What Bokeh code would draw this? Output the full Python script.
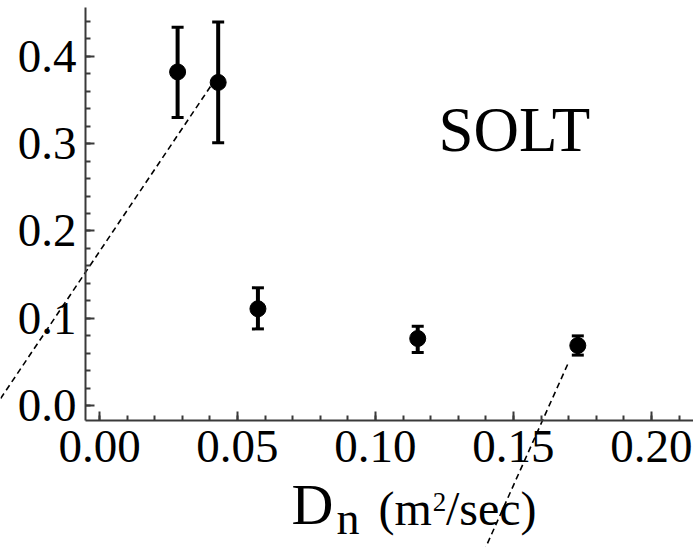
from bokeh.plotting import figure
from bokeh.models import (ColumnDataSource, Whisker, TeeHead, LinearAxis,
                          SingleIntervalTicker, NumeralTickFormatter, Range1d)
from bokeh.core.properties import value as fixed
from bokeh.embed import file_html
from bokeh.resources import INLINE

# Diffusion coefficient D_n (m^2/sec) and measured values with error bounds
d_n = [0.0283, 0.0430, 0.0574, 0.1153, 0.1733]
value = [0.382, 0.370, 0.111, 0.077, 0.069]
upper = [0.433, 0.439, 0.135, 0.091, 0.080]
lower = [0.330, 0.301, 0.088, 0.061, 0.058]

# Dashed guide lines (start x, start y, end x, end y) in data units
guide_x0 = [0.0402, 0.1696]
guide_y0 = [0.3653, 0.0473]
guide_x1 = [-0.0359, 0.1399]
guide_y1 = [0.0080, -0.1621]

# Extent of the drawn axes
X_LO, X_HI = -0.00507, 0.2152
Y_LO, Y_HI = -0.0168, 0.4557

SERIF = "Liberation Serif"
AXIS_COLOR = "#3a3a3a"

src = ColumnDataSource(data=dict(x=d_n, y=value, upper=upper, lower=lower))

# The plotting area spans the whole canvas so the guide lines and the axis
# title can reach past the axes; the axes are pinned inside it.
p = figure(width=693, height=547, output_backend="svg", toolbar_location=None,
           x_range=Range1d(-0.03587, 0.21522), y_range=Range1d(-0.16213, 0.46373),
           x_axis_location=None, y_axis_location=None,
           min_border=0, min_border_left=0, min_border_right=0,
           min_border_top=0, min_border_bottom=0)
p.outline_line_color = None
p.background_fill_color = "white"
p.border_fill_color = "white"
p.grid.visible = False

xaxis = LinearAxis(fixed_location=Y_LO, bounds=(X_LO, X_HI),
                   ticker=SingleIntervalTicker(interval=0.05, num_minor_ticks=5),
                   formatter=NumeralTickFormatter(format="0.00"))
yaxis = LinearAxis(fixed_location=X_LO, bounds=(Y_LO, Y_HI),
                   ticker=SingleIntervalTicker(interval=0.1, num_minor_ticks=5),
                   formatter=NumeralTickFormatter(format="0.0"))
for ax in (xaxis, yaxis):
    ax.axis_line_color = AXIS_COLOR
    ax.axis_line_width = 2
    ax.major_tick_line_color = AXIS_COLOR
    ax.minor_tick_line_color = AXIS_COLOR
    ax.major_tick_line_width = 2
    ax.minor_tick_line_width = 2
    ax.major_tick_in = 9
    ax.major_tick_out = 0
    ax.minor_tick_in = 5
    ax.minor_tick_out = 0
    ax.major_label_text_font = SERIF
    ax.major_label_text_font_size = "47px"
    ax.major_label_text_color = "black"
yaxis.major_label_standoff = 9
xaxis.major_label_standoff = 11
p.add_layout(xaxis, "below")
p.add_layout(yaxis, "left")

# Dashed guide lines
p.segment(guide_x0, guide_y0, guide_x1, guide_y1, line_color="black",
          line_width=1.6, line_dash="6 4")

# Error bars
p.add_layout(Whisker(source=src, base="x", upper="upper", lower="lower",
                     line_width=4, line_color="black",
                     upper_head=TeeHead(size=12, line_width=3, line_color="black"),
                     lower_head=TeeHead(size=12, line_width=3, line_color="black")))

# Data points
p.scatter("x", "y", source=src, size=16, color="black")

# Panel tag
p.text(x=[0.1228], y=[0.3161], text=["SOLT"], text_font=fixed(SERIF),
       text_font_size="63px", text_color="black", text_baseline="alphabetic")

# Axis title: D_n (m^2/sec)
title_text = ["D", "n", "(m", "2", "/sec)"]
title_x = [0.0696, 0.0859, 0.1011, 0.1207, 0.1255]
title_y = [-0.1133, -0.1291, -0.1179, -0.1101, -0.1179]
title_size = ["58px", "46px", "48px", "27px", "48px"]
p.text(x=title_x, y=title_y, text=title_text, text_font=fixed(SERIF),
       text_font_size=title_size, text_color="black",
       text_baseline="alphabetic")

open("out.html", "w").write(file_html(p, INLINE))
